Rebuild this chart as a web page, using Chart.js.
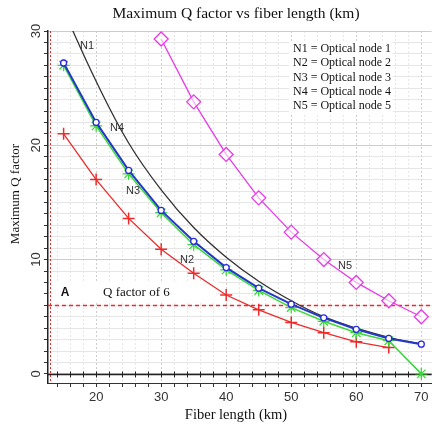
<!DOCTYPE html>
<html>
<head>
<meta charset="utf-8">
<script src="https://cdn.jsdelivr.net/npm/chart.js@4"></script>
<style>
  body { margin: 0; background: #fff; }
  #qChart { display: block; }
</style>
</head>
<body>
<canvas id="qChart" width="440" height="430"></canvas>
<script>
// fiber length (km) on x
const fiberLength = [15, 20, 25, 30, 35, 40, 45, 50, 55, 60, 65, 70];

// maximum Q factor per optical node
const n1Q = [31.8, 25.6, 20.2, 16.1, 12.8, 10.2, 8.1, 6.4, 5.0, 4.0, 3.2, 2.6];
const n2Q = [21.0, 17.0, 13.6, 10.9, 8.8, 6.9, 5.6, 4.5, 3.6, 2.8, 2.3, null];
const n3Q = [27.0, 21.7, 17.5, 14.1, 11.3, 9.1, 7.3, 5.8, 4.6, 3.6, 2.9, 0];
const n4Q = [27.2, 22.0, 17.8, 14.3, 11.6, 9.3, 7.5, 6.1, 4.9, 3.9, 3.1, 2.6];
const n5Q = [null, null, null, 29.3, 23.8, 19.2, 15.4, 12.4, 10.0, 8.0, 6.4, 5.0];

const qThreshold = 6;
const yTickLabels = [0, 10, 20, 30];
const legendLines = [
    'N1 = Optical node 1',
    'N2 = Optical node 2',
    'N3 = Optical node 3',
    'N4 = Optical node 4',
    'N5 = Optical node 5'
];

const toPoints = (arr) => fiberLength.map((x, i) => ({ x: x, y: arr[i] }));

const serif = '"Liberation Serif", "Times New Roman", serif';
const sans = '"Liberation Sans", Arial, sans-serif';

// extra drawing: threshold line, zero axis, labels, legend box
const decorPlugin = {
    id: 'decor',
    beforeDatasetsDraw(chart) {
        const { ctx, chartArea: a, scales: { x, y } } = chart;
        ctx.save();
        // white boxes behind text
        ctx.fillStyle = '#fff';
        ctx.fillRect(289, 41, 104, 72);
        ctx.fillRect(52, 282, 166, 21);

        // red dotted line next to y axis
        ctx.strokeStyle = '#e02828';
        ctx.lineWidth = 1;
        ctx.setLineDash([2, 2]);
        ctx.beginPath();
        ctx.moveTo(a.left + 2.5, a.top);
        ctx.lineTo(a.left + 2.5, a.bottom);
        ctx.stroke();

        // Q factor threshold
        const ty = Math.round(y.getPixelForValue(qThreshold)) + 0.5;
        ctx.strokeStyle = '#f02828';
        ctx.setLineDash([4, 3]);
        ctx.lineWidth = 1.3;
        ctx.beginPath();
        ctx.moveTo(a.left, ty);
        ctx.lineTo(a.right, ty);
        ctx.stroke();

        // solid zero line with ticks
        ctx.setLineDash([]);
        const zy = Math.round(y.getPixelForValue(0)) + 0.5;
        ctx.strokeStyle = '#222';
        ctx.lineWidth = 1.5;
        ctx.beginPath();
        ctx.moveTo(a.left, zy);
        ctx.lineTo(a.right, zy);
        ctx.stroke();
        ctx.lineWidth = 1;
        x.ticks.forEach(t => {
            const px = Math.round(x.getPixelForValue(t.value)) + 0.5;
            ctx.beginPath();
            ctx.moveTo(px, zy - 3);
            ctx.lineTo(px, zy + 3);
            ctx.stroke();
        });
        ctx.restore();
    },
    afterDatasetsDraw(chart) {
        const { ctx, scales: { y } } = chart;
        ctx.save();
        ctx.textAlign = 'center';
        ctx.textBaseline = 'middle';

        // titles
        ctx.fillStyle = '#111';
        ctx.font = '15.5px ' + serif;
        ctx.fillText('Maximum Q factor vs fiber length (km)', 236, 14);
        ctx.font = '14.5px ' + serif;
        ctx.fillText('Fiber length (km)', 236, 415);

        // curve labels
        ctx.fillStyle = '#333';
        ctx.font = '11px ' + sans;
        ctx.fillText('N1', 87, 46);
        ctx.fillText('N4', 117, 128);
        ctx.fillText('N3', 133, 191);
        ctx.fillText('N2', 187, 260);
        ctx.fillText('N5', 345, 266);

        ctx.fillStyle = '#111';
        ctx.font = 'bold 12px ' + sans;
        ctx.fillText('A', 65, 293);
        ctx.font = '13px ' + serif;
        ctx.textAlign = 'left';
        ctx.fillText('Q factor of 6', 103, 293);

        // legend box text
        ctx.font = '12px ' + serif;
        legendLines.forEach((s, i) => ctx.fillText(s, 293, 49 + i * 14.3));

        // rotated y tick labels
        ctx.fillStyle = '#333';
        ctx.font = '13px ' + sans;
        ctx.textAlign = 'center';
        yTickLabels.forEach(v => {
            ctx.save();
            ctx.translate(36, y.getPixelForValue(v));
            ctx.rotate(-Math.PI / 2);
            ctx.fillText(String(v), 0, 0);
            ctx.restore();
        });

        // y axis title
        ctx.fillStyle = '#111';
        ctx.font = '13px ' + serif;
        ctx.translate(16, 194);
        ctx.rotate(-Math.PI / 2);
        ctx.fillText('Maximum Q factor', 0, 0);
        ctx.restore();
    }
};

const gridColor = (c) => (Math.abs(c.tick.value % 10) < 0.01 ? '#cdcdcd' : '#e6e6e6');

new Chart(document.getElementById('qChart'), {
    type: 'line',
    data: {
        datasets: [
            {
                label: 'N4',
                data: toPoints(n4Q),
                borderColor: '#2338c8',
                borderWidth: 2,
                pointStyle: 'circle',
                pointRadius: 3,
                pointBorderColor: '#2a2ae0',
                pointBackgroundColor: '#fff',
                pointBorderWidth: 1.3
            },
            {
                label: 'N3',
                data: toPoints(n3Q),
                borderColor: '#3ad83a',
                borderWidth: 1.5,
                pointStyle: 'star',
                pointRadius: 6,
                pointBorderColor: '#3ad83a',
                pointBorderWidth: 1.3
            },
            {
                label: 'N1',
                data: toPoints(n1Q),
                borderColor: '#333',
                borderWidth: 1.3,
                pointRadius: 0,
                tension: 0.4
            },
            {
                label: 'N2',
                data: toPoints(n2Q),
                borderColor: '#ee2b2b',
                borderWidth: 1.3,
                pointStyle: 'cross',
                pointRadius: 6,
                pointBorderColor: '#ee2b2b',
                pointBorderWidth: 1.5
            },
            {
                label: 'N5',
                data: toPoints(n5Q),
                borderColor: '#e83ae8',
                borderWidth: 1.3,
                pointStyle: 'rectRot',
                pointRadius: 7,
                pointBorderColor: '#e83ae8',
                pointBackgroundColor: 'rgba(255,255,255,0.6)',
                pointBorderWidth: 1.3
            }
        ]
    },
    options: {
        responsive: false,
        animation: false,
        layout: { padding: { left: 0, right: 4, top: 31, bottom: 0 } },
        plugins: {
            legend: { display: false },
            tooltip: { enabled: false },
            title: { display: false }
        },
        scales: {
            x: {
                type: 'linear',
                min: 12.6,
                max: 71.6,
                afterFit: (s) => { s.height = 47; },
                ticks: {
                    stepSize: 2,
                    includeBounds: false,
                    color: '#333',
                    font: { family: sans, size: 13 },
                    padding: 3,
                    maxRotation: 0,
                    autoSkip: false,
                    callback: (v) => (Math.abs(v % 10) < 0.01 ? String(v) : '')
                },
                grid: { color: gridColor, tickColor: '#333', tickLength: 4 },
                border: { color: '#333', dash: [2, 2], width: 1 }
            },
            y: {
                min: -0.8,
                max: 30,
                afterFit: (s) => { s.width = 48; },
                ticks: { stepSize: 1, includeBounds: false, display: false },
                grid: { color: gridColor, tickColor: '#333', tickLength: 4 },
                border: { color: '#222', width: 1.5 }
            }
        }
    },
    plugins: [decorPlugin]
});
</script>
</body>
</html>
